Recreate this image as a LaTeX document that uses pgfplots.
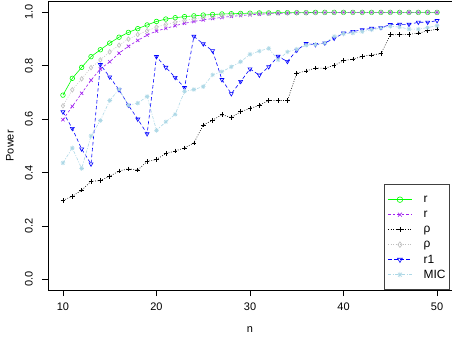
\documentclass[border=0pt]{standalone}
\usepackage{fontspec}
\setmainfont{Liberation Sans}
\usepackage{pgfplots}
\pgfplotsset{compat=1.18}
\definecolor{rgreen}{HTML}{00FF00}
\definecolor{rpurple}{HTML}{A020F0}
\definecolor{rgray}{HTML}{BEBEBE}
\definecolor{rblue}{HTML}{0000FF}
\definecolor{rlblue}{HTML}{ADD8E6}
\pgfdeclareplotmark{rast}{%
 \pgfpathmoveto{\pgfqpoint{-\pgfplotmarksize}{0pt}}\pgfpathlineto{\pgfqpoint{\pgfplotmarksize}{0pt}}%
 \pgfpathmoveto{\pgfqpoint{0pt}{-\pgfplotmarksize}}\pgfpathlineto{\pgfqpoint{0pt}{\pgfplotmarksize}}%
 \pgfpathmoveto{\pgfqpoint{-.7071\pgfplotmarksize}{-.7071\pgfplotmarksize}}\pgfpathlineto{\pgfqpoint{.7071\pgfplotmarksize}{.7071\pgfplotmarksize}}%
 \pgfpathmoveto{\pgfqpoint{-.7071\pgfplotmarksize}{.7071\pgfplotmarksize}}\pgfpathlineto{\pgfqpoint{.7071\pgfplotmarksize}{-.7071\pgfplotmarksize}}%
 \pgfusepathqstroke}
\begin{document}
\begin{tikzpicture}
\begin{axis}[
 name=ax, scale only axis, width=404bp, height=288.3bp,
 xmin=8.4, xmax=51.6, ymin=-0.04, ymax=1.04,
 xtick={10,20,30,40,50}, ytick={0,0.2,0.4,0.6,0.8,1.0},
 xtick pos=left, ytick pos=left,
 tick align=outside, major tick length=6bp,
 axis line style={black, line width=0.7bp},
 every tick/.style={black, line width=0.7bp},
 /pgf/number format/assume math mode=true,
 font=\fontsize{11}{13}\selectfont,
 ticklabel style={font=\fontsize{11}{13}\selectfont},
 yticklabel style={rotate=90, anchor=south, inner sep=0pt, yshift=9bp, /pgf/number format/.cd, fixed, fixed zerofill, precision=1},
 xticklabel style={inner sep=0pt, yshift=-7bp},
 xlabel={n}, ylabel={Power},
 xlabel style={at={(axis description cs:0.5,0)}, anchor=center, yshift=-40bp},
 ylabel style={at={(axis description cs:0,0.5)}, anchor=center, rotate=0, yshift=38bp},
 every axis plot/.append style={line width=0.6bp, mark size=2.3bp},
 legend cell align=left,
 legend style={at={(axis description cs:0.8324,0.3666)}, anchor=north west,
   draw=black!75, line width=0.7bp, inner xsep=3.4bp, inner ysep=7.5bp,
   font=\fontsize{12}{14}\selectfont, row sep=0pt,
   nodes={inner sep=0pt, minimum height=15bp},
   /tikz/every odd column/.append style={column sep=11.7bp}},
 legend image code/.code={\draw[mark repeat=2,mark phase=2, mark size=2.8bp] plot coordinates {(0bp,0bp)(11.6bp,0bp)(23.2bp,0bp)};},
]
\addplot[rgreen, solid, mark=o] coordinates {
(10,0.690)(11,0.753)(12,0.794)(13,0.834)(14,0.860)(15,0.885)(16,0.907)(17,0.925)(18,0.939)(19,0.953)
(20,0.966)(21,0.975)(22,0.980)(23,0.984)(24,0.987)(25,0.990)(26,0.992)(27,0.994)(28,0.995)(29,0.996)
(30,0.997)(31,0.998)(32,0.998)(33,0.999)(34,0.999)(35,0.999)(36,0.999)(37,1.0)(38,1.0)(39,1.0)
(40,1.0)(41,1.0)(42,1.0)(43,1.0)(44,1.0)(45,1.0)(46,1.0)(47,1.0)(48,1.0)(49,1.0)(50,1.0)};
\addlegendentry{r}
\addplot[rpurple, dash pattern=on 2.5bp off 2bp, mark=x, mark options={solid}] coordinates {
(10,0.598)(11,0.648)(12,0.697)(13,0.746)(14,0.788)(15,0.815)(16,0.847)(17,0.873)(18,0.895)(19,0.915)
(20,0.930)(21,0.940)(22,0.950)(23,0.959)(24,0.966)(25,0.972)(26,0.977)(27,0.981)(28,0.985)(29,0.988)
(30,0.991)(31,0.993)(32,0.995)(33,0.996)(34,0.997)(35,0.998)(36,0.998)(37,0.999)(38,0.999)(39,0.999)
(40,1.0)(41,1.0)(42,1.0)(43,1.0)(44,1.0)(45,1.0)(46,1.0)(47,1.0)(48,1.0)(49,1.0)(50,1.0)};
\addlegendentry{r}
\addplot[black, dash pattern=on 0.8bp off 1.6bp, mark=+, mark options={solid}] coordinates {
(10,0.296)(11,0.311)(12,0.334)(13,0.367)(14,0.370)(15,0.386)(16,0.406)(17,0.414)(18,0.409)(19,0.442)
(20,0.449)(21,0.471)(22,0.481)(23,0.492)(24,0.511)(25,0.578)(26,0.596)(27,0.617)(28,0.606)(29,0.628)
(30,0.640)(31,0.652)(32,0.670)(33,0.670)(34,0.670)(35,0.772)(36,0.781)(37,0.791)(38,0.791)(39,0.801)
(40,0.819)(41,0.825)(42,0.835)(43,0.841)(44,0.845)(45,0.916)(46,0.917)(47,0.918)(48,0.922)(49,0.931)(50,0.937)};
\addlegendentry{ρ}
\addplot[rgray, dash pattern=on 0.8bp off 1.6bp, mark=diamond, mark options={solid}] coordinates {
(10,0.650)(11,0.710)(12,0.751)(13,0.793)(14,0.822)(15,0.852)(16,0.877)(17,0.900)(18,0.917)(19,0.931)
(20,0.945)(21,0.955)(22,0.963)(23,0.970)(24,0.976)(25,0.981)(26,0.985)(27,0.988)(28,0.991)(29,0.993)
(30,0.995)(31,0.996)(32,0.997)(33,0.998)(34,0.998)(35,0.999)(36,0.999)(37,0.999)(38,1.0)(39,1.0)
(40,1.0)(41,1.0)(42,1.0)(43,1.0)(44,1.0)(45,1.0)(46,1.0)(47,1.0)(48,1.0)(49,1.0)(50,1.0)};
\addlegendentry{ρ}
\addplot[rblue, dash pattern=on 3.5bp off 2.5bp, mark=triangle, mark options={solid, rotate=180}] coordinates {
(10,0.627)(11,0.565)(12,0.488)(13,0.432)(14,0.804)(15,0.758)(16,0.710)(17,0.652)(18,0.600)(19,0.545)
(20,0.834)(21,0.794)(22,0.756)(23,0.718)(24,0.910)(25,0.882)(26,0.856)(27,0.748)(28,0.695)(29,0.741)
(30,0.788)(31,0.765)(32,0.796)(33,0.835)(34,0.816)(35,0.858)(36,0.883)(37,0.879)(38,0.885)(39,0.903)
(40,0.922)(41,0.928)(42,0.935)(43,0.940)(44,0.943)(45,0.954)(46,0.955)(47,0.955)(48,0.963)(49,0.963)(50,0.969)};
\addlegendentry{r1}
\addplot[rlblue, dash pattern=on 3bp off 1.5bp on 1bp off 1.5bp, mark=rast, mark options={solid}] coordinates {
(10,0.436)(11,0.492)(12,0.415)(13,0.537)(14,0.595)(15,0.670)(16,0.712)(17,0.652)(18,0.660)(19,0.685)
(20,0.558)(21,0.590)(22,0.618)(23,0.704)(24,0.711)(25,0.722)(26,0.766)(27,0.778)(28,0.796)(29,0.815)
(30,0.843)(31,0.855)(32,0.865)(33,0.822)(34,0.852)(35,0.862)(36,0.877)(37,0.880)(38,0.885)(39,0.910)
(40,0.920)(41,0.922)(42,0.928)(43,0.935)(44,0.941)(45,0.948)(46,0.945)(47,0.937)(48,0.937)(49,0.943)(50,0.950)};
\addlegendentry{MIC}
\end{axis}
\pgfresetboundingbox
\path[use as bounding box] ([xshift=-48bp,yshift=-60bp]ax.south west) rectangle ([yshift=1.7bp]ax.north east);
\end{tikzpicture}
\end{document}
